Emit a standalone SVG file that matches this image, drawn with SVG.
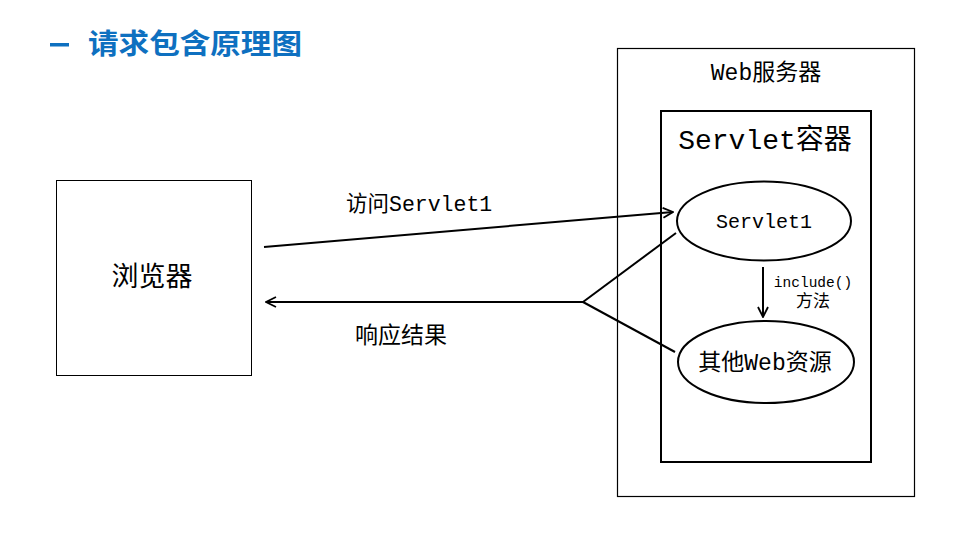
<svg xmlns="http://www.w3.org/2000/svg" width="972" height="535" viewBox="0 0 972 535">
<defs>
<style>
.t{font-family:"Liberation Mono","Noto Sans CJK SC",monospace;fill:#000}
.c{text-anchor:middle}
.box{fill:#fff;stroke:#000}
.ln{fill:none;stroke:#000;stroke-width:2}
.ttl{font-family:"Noto Sans CJK SC",sans-serif;font-weight:bold;fill:#0E70C0}
</style>
<marker id="arr" viewBox="0 0 12 12" refX="11" refY="6" markerWidth="12" markerHeight="12" markerUnits="userSpaceOnUse" orient="auto">
<path d="M1,1 L11,6 L1,11" fill="none" stroke="#000" stroke-width="1.8"/>
</marker>
</defs>
<rect width="972" height="535" fill="#fff"/>
<g id="title">
<rect x="50" y="43" width="19" height="3.5" fill="#0E70C0"/>
<text class="ttl" x="88" y="54" font-size="28" textLength="214" lengthAdjust="spacingAndGlyphs">请求包含原理图</text>
</g>
<g id="browser">
<rect class="box" x="56.5" y="180.5" width="195" height="195" stroke-width="1"/>
<text class="t c" x="152" y="286" font-size="27">浏览器</text>
</g>
<g id="webserver">
<rect class="box" x="617.5" y="48.5" width="297" height="448" stroke-width="1.2"/>
<text class="t c" x="766" y="80" font-size="23">Web服务器</text>
</g>
<g id="container">
<rect class="box" x="661" y="111" width="210" height="351" stroke-width="2"/>
<text class="t c" x="765" y="149" font-size="28">Servlet容器</text>
</g>
<g id="servlet1">
<ellipse class="ln" cx="764" cy="221" rx="87" ry="39.5" fill="#fff"/>
<text class="t c" x="764" y="228" font-size="20">Servlet1</text>
</g>
<g id="other">
<ellipse class="ln" cx="766" cy="362" rx="88" ry="41" fill="#fff"/>
<text class="t c" x="765" y="370" font-size="23">其他Web资源</text>
</g>
<g id="connectors">
<line class="ln" x1="264" y1="247" x2="673" y2="212" marker-end="url(#arr)"/>
<line class="ln" x1="583" y1="302" x2="266" y2="302" marker-end="url(#arr)"/>
<line class="ln" x1="583" y1="302" x2="676" y2="233"/>
<line class="ln" x1="583" y1="302" x2="675" y2="352"/>
<line class="ln" x1="763" y1="267" x2="763" y2="317" marker-end="url(#arr)"/>
</g>
<g id="labels">
<text class="t" x="346" y="211" font-size="21.5">访问Servlet1</text>
<text class="t" x="355" y="343" font-size="23">响应结果</text>
<text class="t c" x="813" y="287" font-size="14.5">include()</text>
<text class="t c" x="813" y="307" font-size="17">方法</text>
</g>
</svg>
